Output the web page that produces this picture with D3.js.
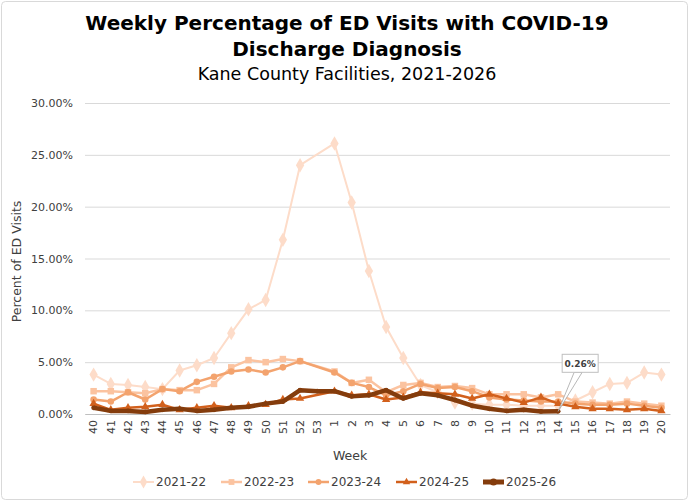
<!DOCTYPE html>
<html>
<head>
<meta charset="utf-8">
<script src="https://cdn.jsdelivr.net/npm/d3@7"></script>
<style>
  html, body { margin: 0; padding: 0; background: #fff; }
  svg { display: block; }
</style>
</head>
<body>
<div id="chart"></div>
<script>
const weeks = ['40', '41', '42', '43', '44', '45', '46', '47', '48', '49', '50', '51', '52', '53',
  '1', '2', '3', '4', '5', '6', '7', '8', '9', '10', '11', '12', '13', '14', '15', '16', '17', '18', '19', '20'];

const seasons = ['2021-22', '2022-23', '2023-24', '2024-25', '2025-26'];

const s2122 = [3.8, 2.9, 2.8, 2.6, 2.4, 4.2, 4.7, 5.4, 7.8, 10.1, 11.0, 16.8, 24.0, null,
  26.1, 20.4, 13.8, 8.4, 5.4, 2.8, 2.1, 1.1, 1.0, 0.9, 0.9, 0.8, 0.8, 0.8, 1.3, 2.1, 2.9, 3.0, 4.0, 3.8];
const s2223 = [2.2, 2.2, 2.1, 2.0, 2.4, 2.3, 2.3, 2.9, 4.5, 5.2, 5.0, 5.3, 5.1, null,
  4.1, 3.0, 3.3, 2.1, 2.8, 3.0, 2.6, 2.7, 2.5, 1.9, 1.9, 1.9, 1.6, 1.9, 1.2, 1.1, 1.0, 1.2, 1.0, 0.8];
const s2324 = [1.4, 1.2, 2.1, 1.4, 2.4, 2.2, 3.1, 3.6, 4.1, 4.3, 4.0, 4.5, 5.1, null,
  4.0, 3.0, 2.6, 1.8, 2.2, 2.9, 2.5, 2.6, 2.2, 1.6, 1.4, 1.3, 1.2, 1.2, 1.0, 0.9, 0.9, 1.0, 0.8, 0.6];
const s2425 = [1.0, 0.4, 0.6, 0.7, 0.9, 0.4, 0.6, 0.8, 0.6, 0.8, 0.9, 1.4, 1.5, null,
  2.2, 1.8, 1.9, 1.4, 1.6, 2.1, 2.0, 1.9, 1.5, 1.9, 1.5, 1.1, 1.6, 1.0, 0.7, 0.5, 0.5, 0.4, 0.5, 0.3];
const s2526 = [0.6, 0.3, 0.3, 0.2, 0.4, 0.5, 0.3, 0.4, 0.6, 0.7, 1.0, 1.2, 2.3, 2.2,
  2.2, 1.7, 1.8, 2.3, 1.5, 2.0, 1.8, 1.35, 0.8, 0.5, 0.3, 0.4, 0.25, 0.26, null, null, null, null, null, null];

const yTicks = [0, 5, 10, 15, 20, 25, 30];
const colors = ['#fddcc9', '#fbc3a0', '#f3a36e', '#d2601c', '#843c0c'];

const width = 690;
const height = 502;
const margin = { top: 103, right: 20, bottom: 88, left: 85 };
const font = "'DejaVu Sans', Verdana, sans-serif";

const allSeries = [s2122, s2223, s2324, s2425, s2526];
const seriesStyle = [
  { symbol: d3.symbolDiamond, size: 60, stroke: 2 },
  { symbol: d3.symbolSquare, size: 42, stroke: 2.5 },
  { symbol: d3.symbolCircle, size: 34, stroke: 2.5 },
  { symbol: d3.symbolTriangle, size: 30, stroke: 2.5 },
  { symbol: d3.symbolCircle, size: 18, stroke: 4.5 },
];

const svg = d3.select('#chart').append('svg')
  .attr('width', width)
  .attr('height', height);

// outer border
svg.append('rect')
  .attr('x', 1.5).attr('y', 1.5)
  .attr('width', width - 4).attr('height', height - 4)
  .attr('rx', 4)
  .attr('fill', '#fff')
  .attr('stroke', '#d9d9d9');

const x = d3.scaleBand()
  .domain(weeks)
  .range([margin.left, width - margin.right])
  .padding(0);
const cx = (w) => x(w) + x.bandwidth() / 2;

const y = d3.scaleLinear()
  .domain([0, 30])
  .range([height - margin.bottom, margin.top]);

// Titles
svg.append('text')
  .attr('x', 347).attr('y', 30)
  .attr('text-anchor', 'middle')
  .attr('font-family', font)
  .attr('font-weight', 'bold')
  .attr('font-size', '20px')
  .attr('fill', '#000')
  .text('Weekly Percentage of ED Visits with COVID-19');
svg.append('text')
  .attr('x', 347).attr('y', 56)
  .attr('text-anchor', 'middle')
  .attr('font-family', font)
  .attr('font-weight', 'bold')
  .attr('font-size', '20px')
  .attr('fill', '#000')
  .text('Discharge Diagnosis');
svg.append('text')
  .attr('x', 347).attr('y', 80)
  .attr('text-anchor', 'middle')
  .attr('font-family', font)
  .attr('font-size', '17.5px')
  .attr('fill', '#000')
  .text('Kane County Facilities, 2021-2026');

// Gridlines + y axis
const yAxis = d3.axisLeft(y)
  .tickValues(yTicks)
  .tickSize(-(width - margin.left - margin.right))
  .tickPadding(12)
  .tickFormat((d) => d3.format('.2f')(d) + '%');

const gy = svg.append('g')
  .attr('transform', `translate(${margin.left},0)`)
  .call(yAxis);
gy.select('.domain').remove();
gy.selectAll('.tick line').attr('stroke', '#d9d9d9').attr('stroke-width', 1);
gy.selectAll('.tick text')
  .attr('font-family', font)
  .attr('font-size', '11px')
  .attr('fill', '#404040');

// x axis
const xAxis = d3.axisBottom(x).tickSize(0).tickPadding(0);
const gx = svg.append('g')
  .attr('transform', `translate(0,${y(0)})`)
  .call(xAxis);
gx.select('.domain').attr('stroke', '#bfbfbf');
gx.selectAll('.tick text')
  .attr('font-family', font)
  .attr('font-size', '11px')
  .attr('fill', '#404040')
  .attr('text-anchor', 'end')
  .attr('dy', '0.35em')
  .attr('transform', 'translate(0,6) rotate(-90)');

// axis titles
svg.append('text')
  .attr('x', 350).attr('y', 460)
  .attr('text-anchor', 'middle')
  .attr('font-family', font)
  .attr('font-size', '12.5px')
  .attr('fill', '#404040')
  .text('Week');
svg.append('text')
  .attr('transform', `translate(21,${(y(0) + y(30)) / 2 + 3}) rotate(-90)`)
  .attr('text-anchor', 'middle')
  .attr('font-family', font)
  .attr('font-size', '12.5px')
  .attr('fill', '#404040')
  .text('Percent of ED Visits');

// Lines
const line = d3.line()
  .x((d) => cx(d.week))
  .y((d) => y(d.value));

const plot = svg.append('g');

allSeries.forEach((vals, i) => {
  const pts = weeks.map((w, j) => ({ week: w, value: vals[j] })).filter((d) => d.value != null);
  const st = seriesStyle[i];
  const g = plot.append('g').attr('class', 'series');

  g.append('path')
    .datum(pts)
    .attr('fill', 'none')
    .attr('stroke', colors[i])
    .attr('stroke-width', st.stroke)
    .attr('stroke-linejoin', 'round')
    .attr('d', line);

  g.selectAll('.marker')
    .data(pts)
    .enter()
    .append('path')
    .attr('class', 'marker')
    .attr('transform', (d) => `translate(${cx(d.week)},${y(d.value)})`)
    .attr('d', d3.symbol().type(st.symbol).size(st.size))
    .attr('fill', colors[i]);
});

// Callout for the latest value
const lastIdx = s2526.reduce((acc, v, j) => (v != null ? j : acc), 0);
const px = cx(weeks[lastIdx]);
const py = y(s2526[lastIdx]);
const boxX = px + 4;
const boxY = py - 57;
const boxW = 36;
const boxH = 18;

svg.append('path')
  .attr('d', `M${px},${py} L${boxX + 12},${boxY + boxH} L${boxX + 20},${boxY + boxH} Z`)
  .attr('fill', '#fff')
  .attr('stroke', '#a6a6a6')
  .attr('stroke-width', 0.8);
svg.append('rect')
  .attr('x', boxX).attr('y', boxY)
  .attr('width', boxW).attr('height', boxH)
  .attr('fill', '#fff')
  .attr('stroke', '#bfbfbf');
svg.append('text')
  .attr('x', boxX + boxW / 2).attr('y', boxY + 12.5)
  .attr('text-anchor', 'middle')
  .attr('font-family', font)
  .attr('font-weight', 'bold')
  .attr('font-size', '9px')
  .attr('fill', '#404040')
  .text(d3.format('.2f')(s2526[lastIdx]) + '%');

// Legend
const legendX = [133, 221, 308, 396, 483];
const legend = svg.append('g').attr('transform', 'translate(0,482)');
seasons.forEach((s, i) => {
  const st = seriesStyle[i];
  const item = legend.append('g').attr('transform', `translate(${legendX[i]},0)`);
  item.append('line')
    .attr('x1', 0).attr('x2', 21)
    .attr('stroke', colors[i])
    .attr('stroke-width', i === 4 ? 5 : st.stroke);
  item.append('path')
    .attr('transform', 'translate(10.5,0)')
    .attr('d', d3.symbol().type(st.symbol).size(i === 4 ? 40 : st.size * 0.8))
    .attr('fill', colors[i]);
  item.append('text')
    .attr('x', 23).attr('y', 0)
    .attr('dy', '0.35em')
    .attr('font-family', font)
    .attr('font-size', '12px')
    .attr('fill', '#404040')
    .text(s);
});
</script>
</body>
</html>
